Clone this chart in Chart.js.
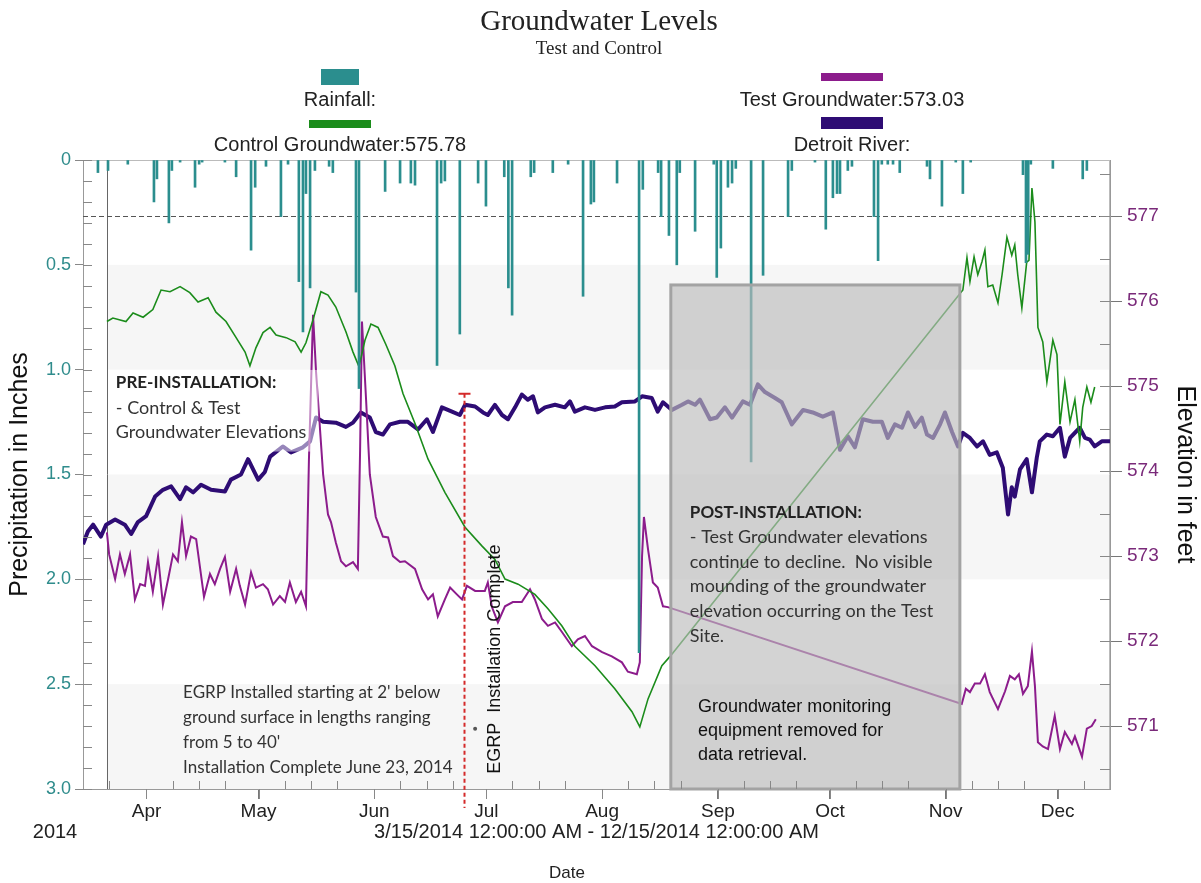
<!DOCTYPE html>
<html>
<head>
<meta charset="utf-8">
<title>Groundwater Levels</title>
<script src="https://cdn.jsdelivr.net/npm/chart.js@4.4.1/dist/chart.umd.min.js"></script>
<style>
  html, body { margin: 0; padding: 0; background: #fff; }
</style>
</head>
<body>
<canvas id="gw" width="1201" height="883"></canvas>
<script>
// x values are days after 3/15/2014 12:00 AM
var monthDays = [17, 47, 78, 108, 139, 170, 200, 231, 261];
var monthNames = ['Apr', 'May', 'Jun', 'Jul', 'Aug', 'Sep', 'Oct', 'Nov', 'Dec'];
var precipTicks = [0, 0.5, 1, 1.5, 2, 2.5, 3];
var elevTicks = [571, 572, 573, 574, 575, 576, 577];

var rainDay = [4.0, 6.7, 12.0, 19.0, 19.8, 23.0, 23.8, 26.0, 30.0, 31.1, 31.9, 38.0, 41.0, 45.0, 46.1, 49.0, 53.0, 54.9, 57.8, 58.9,
  59.7, 60.8, 62.1, 65.9, 66.9, 73.1, 73.9, 80.9, 84.9, 87.8, 88.9, 94.8, 95.9, 96.9, 100.9, 105.8, 107.9, 112.8, 113.9, 114.9,
  119.9, 120.8, 125.8, 129.9, 133.9, 136.0, 136.8, 143.0, 148.9, 149.9, 154.0, 154.8, 156.9, 159.0, 159.8, 163.9, 168.9, 169.7, 170.8, 172.7,
  173.8, 174.8, 178.9, 182.1, 188.8, 189.8, 196.0, 198.9, 200.8, 201.9, 202.7, 204.8, 205.9, 211.8, 212.9, 213.9, 215.5, 216.9, 218.7, 226.0,
  226.8, 230.0, 233.7, 235.6, 237.7, 251.7, 252.5, 253.1, 253.8, 259.7, 267.7, 268.8];
var rainInches = [0.06, 0.05, 0.02, 0.20, 0.09, 0.30, 0.05, 0.01, 0.13, 0.02, 0.01, 0.01, 0.08, 0.43, 0.13, 0.03, 0.27, 0.02, 0.58, 0.82,
  0.16, 0.61, 0.05, 0.03, 0.06, 0.63, 1.09, 0.15, 0.11, 0.11, 0.12, 0.98, 0.11, 0.10, 0.83, 0.11, 0.22, 0.08, 0.61, 0.74,
  0.08, 0.06, 0.06, 0.02, 0.65, 0.21, 0.20, 0.11, 2.35, 0.14, 0.06, 0.27, 0.36, 0.50, 0.06, 0.34, 0.02, 0.56, 0.42, 0.13,
  0.11, 0.04, 1.44, 0.55, 0.27, 0.05, 0.01, 0.33, 0.18, 0.16, 0.16, 0.05, 0.03, 0.27, 0.48, 0.02, 0.02, 0.02, 0.06, 0.03,
  0.09, 0.22, 0.01, 0.16, 0.01, 0.07, 0.49, 0.45, 0.02, 0.04, 0.09, 0.05];

var controlDay = [6.4, 8.0, 11.5, 13.4, 16.1, 18.7, 20.9, 23.3, 26.0, 28.6, 30.8, 33.5, 35.6, 38.3, 41.0, 43.4, 44.7, 46.3, 48.2, 50.1,
  51.7, 54.4, 56.8, 58.4, 59.7, 61.6, 63.7, 65.6, 67.7, 70.4, 72.3, 73.9, 75.5, 77.1, 79.0, 81.1, 83.5, 85.7, 88.9, 92.4,
  96.9, 102.3, 106.8, 110.3, 113.0, 116.5, 121.0, 124.5, 128.2, 131.7, 137.1, 142.4, 147.0, 149.1, 151.3, 155.0, 157.2, 235.6, 236.7, 237.5,
  238.6, 239.6, 240.7, 241.5, 242.3, 243.6, 245.0, 246.1, 247.4, 248.7, 249.5, 250.3, 251.4, 252.7, 253.3, 254.1, 254.9, 255.7, 257.0, 258.1,
  259.7, 260.8, 261.6, 262.9, 264.3, 265.6, 266.9, 267.7, 268.8, 269.9, 270.9];
var controlElev = [575.76, 575.80, 575.76, 575.86, 575.81, 575.90, 576.13, 576.11, 576.17, 576.10, 575.99, 576.04, 575.87, 575.76, 575.57, 575.40, 575.24, 575.45, 575.63, 575.69,
  575.60, 575.57, 575.52, 575.40, 575.51, 575.78, 576.11, 576.07, 575.93, 575.64, 575.40, 575.23, 575.54, 575.73, 575.69, 575.49, 575.24, 574.91, 574.56, 574.14,
  573.75, 573.34, 573.12, 572.96, 572.73, 572.67, 572.55, 572.38, 572.18, 571.94, 571.71, 571.44, 571.17, 570.99, 571.32, 571.71, 571.82, 576.13, 576.51, 576.23,
  576.52, 576.31, 576.46, 576.60, 576.17, 576.19, 575.98, 576.31, 576.75, 576.54, 576.66, 576.31, 575.92, 576.46, 576.48, 577.33, 576.93, 575.69, 575.52, 575.05,
  575.54, 575.37, 574.55, 575.05, 574.58, 574.84, 574.35, 574.75, 574.99, 574.81, 574.99];

var testDay = [6.4, 7.0, 8.6, 9.9, 11.2, 12.6, 13.9, 15.3, 16.6, 17.4, 18.7, 20.1, 21.4, 22.8, 24.1, 25.4, 26.5, 27.6, 28.9, 30.3,
  32.4, 34.0, 35.3, 36.7, 38.0, 39.4, 41.0, 42.0, 43.4, 45.0, 46.3, 48.2, 49.5, 50.9, 52.7, 54.1, 55.4, 57.0, 58.4, 59.7,
  60.5, 61.6, 62.4, 64.3, 65.6, 66.4, 67.7, 69.1, 70.4, 72.3, 73.6, 74.2, 74.7, 75.8, 76.8, 78.4, 80.3, 81.7, 83.0, 84.9,
  86.2, 88.9, 90.8, 92.4, 93.7, 95.0, 96.9, 98.3, 100.1, 101.5, 102.8, 105.0, 107.6, 108.4, 109.5, 111.1, 113.0, 115.1, 117.5, 119.7,
  121.0, 122.9, 124.5, 126.4, 128.2, 130.9, 132.5, 134.4, 136.3, 139.0, 141.6, 144.3, 145.9, 148.3, 149.1, 149.7, 150.2, 151.3, 152.6, 153.9,
  155.3, 156.6, 235.3, 236.4, 237.5, 238.8, 240.2, 241.5, 242.8, 245.0, 246.9, 248.2, 249.5, 250.6, 251.7, 253.0, 254.1, 254.9, 255.7, 257.0,
  258.4, 260.2, 261.6, 262.9, 264.8, 265.6, 267.5, 268.8, 270.1, 271.2];
var testElev = [573.28, 573.02, 572.73, 573.02, 572.79, 573.02, 572.49, 572.67, 572.65, 572.93, 572.58, 573.00, 572.43, 572.73, 573.02, 572.94, 573.40, 573.00, 573.23, 573.20,
  572.52, 572.79, 572.67, 572.85, 572.99, 572.58, 572.85, 572.65, 572.43, 572.81, 572.63, 572.67, 572.61, 572.43, 572.53, 572.46, 572.69, 572.46, 572.58, 572.41,
  574.14, 575.84, 575.17, 573.96, 573.49, 573.40, 573.16, 572.94, 572.88, 572.93, 572.85, 574.25, 575.76, 574.84, 573.96, 573.46, 573.23, 573.22, 573.00, 572.93,
  572.94, 572.85, 572.61, 572.49, 572.55, 572.29, 572.49, 572.63, 572.55, 572.49, 572.65, 572.59, 572.59, 572.69, 572.40, 572.22, 572.41, 572.46, 572.46, 572.61,
  572.49, 572.26, 572.18, 572.22, 572.11, 571.94, 572.02, 572.06, 571.94, 571.87, 571.82, 571.75, 571.64, 571.61, 571.75, 573.00, 573.46, 573.08, 572.69, 572.63,
  572.41, 572.40, 571.26, 571.44, 571.40, 571.50, 571.50, 571.61, 571.40, 571.20, 571.41, 571.59, 571.55, 571.61, 571.38, 571.47, 571.88, 571.47, 570.81, 570.76,
  570.73, 571.12, 570.73, 570.93, 570.79, 570.88, 570.64, 570.97, 571.00, 571.08];

var riverDay = [0.0, 1.3, 2.7, 4.8, 6.2, 8.6, 11.2, 12.9, 14.7, 16.9, 19.3, 21.4, 23.6, 26.0, 27.6, 29.5, 31.6, 34.3, 38.0, 39.6,
  42.3, 44.2, 46.9, 48.7, 50.1, 53.5, 55.7, 58.9, 60.8, 62.4, 64.3, 67.7, 70.4, 72.3, 74.4, 76.8, 78.4, 80.3, 82.2, 84.9,
  87.0, 89.7, 92.1, 93.7, 96.1, 98.8, 100.9, 102.3, 105.0, 107.1, 108.4, 110.3, 112.2, 113.8, 115.7, 117.5, 119.1, 120.5, 121.8, 123.7,
  126.4, 129.0, 130.4, 131.7, 134.4, 137.1, 139.8, 142.4, 144.3, 147.8, 149.7, 152.3, 153.9, 155.3, 157.7, 160.4, 162.0, 163.9, 165.2, 167.9,
  169.7, 171.9, 173.8, 176.7, 178.6, 180.7, 182.6, 185.3, 187.1, 189.8, 192.8, 195.4, 198.1, 200.8, 202.7, 204.8, 206.7, 208.8, 211.5, 213.9,
  215.5, 217.4, 219.3, 220.9, 222.8, 224.6, 226.0, 227.6, 229.5, 230.8, 232.7, 234.3, 235.6, 237.5, 239.4, 241.0, 242.8, 244.7, 246.3, 247.7,
  248.7, 249.5, 250.9, 252.7, 254.1, 255.4, 256.2, 258.1, 259.7, 261.6, 262.9, 264.3, 266.9, 268.3, 269.6, 270.9, 272.8, 275.0];
var riverElev = [573.14, 573.29, 573.37, 573.23, 573.37, 573.43, 573.37, 573.26, 573.40, 573.47, 573.70, 573.78, 573.82, 573.67, 573.81, 573.75, 573.84, 573.78, 573.76, 573.90,
  573.96, 574.14, 573.90, 573.99, 574.17, 574.29, 574.22, 574.28, 574.35, 574.63, 574.58, 574.57, 574.52, 574.57, 574.69, 574.63, 574.46, 574.43, 574.55, 574.58,
  574.58, 574.49, 574.61, 574.46, 574.75, 574.70, 574.66, 574.78, 574.76, 574.69, 574.66, 574.78, 574.66, 574.61, 574.75, 574.90, 574.84, 574.88, 574.69, 574.75,
  574.78, 574.75, 574.82, 574.70, 574.75, 574.72, 574.75, 574.76, 574.81, 574.82, 574.88, 574.86, 574.70, 574.81, 574.72, 574.78, 574.82, 574.78, 574.84, 574.61,
  574.63, 574.75, 574.63, 574.82, 574.78, 575.02, 574.93, 574.86, 574.81, 574.55, 574.72, 574.69, 574.64, 574.69, 574.25, 574.41, 574.28, 574.61, 574.58, 574.58,
  574.39, 574.55, 574.51, 574.69, 574.52, 574.63, 574.43, 574.39, 574.55, 574.69, 574.46, 574.29, 574.45, 574.39, 574.29, 574.35, 574.19, 574.22, 574.04, 573.49,
  573.81, 573.70, 574.02, 574.14, 573.75, 574.16, 574.35, 574.43, 574.41, 574.51, 574.17, 574.39, 574.51, 574.39, 574.37, 574.29, 574.35, 574.35];

var dataStart = 6.4;      // logger start line
var installDay = 102;     // red dashed line
var removedFrom = 157.4, removedTo = 234.8;  // equipment removed box

function pts(xs, ys) {
  return xs.map(function(v, i) { return {x: v, y: ys[i]}; });
}

var sans = 'Liberation Sans, Arial, sans-serif';
var note = 'Lato, Open Sans, sans-serif';

var decorations = {
  id: 'decorations',
  beforeDatasetsDraw: function(chart) {
    var ctx = chart.ctx, a = chart.chartArea;
    var x = chart.scales.x, yr = chart.scales.yRain, ye = chart.scales.yElev;
    var x0 = x.getPixelForValue(dataStart);
    ctx.save();
    ctx.fillStyle = '#f6f6f6';
    [[0.5, 1], [1.5, 2], [2.5, 3]].forEach(function(b) {
      var t = yr.getPixelForValue(b[0]), btm = yr.getPixelForValue(b[1]);
      ctx.fillRect(x0, t, a.right - x0, btm - t);
    });
    ctx.strokeStyle = '#bbb';
    ctx.lineWidth = 1;
    ctx.beginPath();
    ctx.moveTo(a.left, a.top + 0.5); ctx.lineTo(a.right, a.top + 0.5);
    ctx.moveTo(a.right - 0.5, a.top); ctx.lineTo(a.right - 0.5, a.bottom);
    ctx.stroke();
    ctx.strokeStyle = '#666';
    ctx.beginPath();
    ctx.moveTo(Math.round(x0) + 0.5, a.top); ctx.lineTo(Math.round(x0) + 0.5, a.bottom);
    ctx.stroke();
    var y577 = Math.round(ye.getPixelForValue(577)) + 0.5;
    ctx.strokeStyle = '#555';
    ctx.setLineDash([5, 3]);
    ctx.beginPath();
    ctx.moveTo(a.left, y577); ctx.lineTo(a.right, y577);
    ctx.stroke();
    ctx.restore();
  },
  afterDatasetsDraw: function(chart) {
    var ctx = chart.ctx, a = chart.chartArea;
    var x = chart.scales.x, yr = chart.scales.yRain, ye = chart.scales.yElev;
    ctx.save();

    // pre-installation note background
    var px1 = x.getPixelForValue(7), px2 = x.getPixelForValue(63);
    var py1 = ye.getPixelForValue(575.19), py2 = ye.getPixelForValue(574.23);
    ctx.fillStyle = 'rgba(255,255,255,0.5)';
    ctx.fillRect(px1, py1, px2 - px1, py2 - py1);

    // equipment removed box
    var gx1 = x.getPixelForValue(removedFrom), gx2 = x.getPixelForValue(removedTo);
    var gy1 = ye.getPixelForValue(576.19);
    ctx.fillStyle = 'rgba(188,188,188,0.65)';
    ctx.fillRect(gx1, gy1, gx2 - gx1, a.bottom - gy1);
    ctx.strokeStyle = '#a3a3a3';
    ctx.lineWidth = 3;
    ctx.strokeRect(gx1, gy1, gx2 - gx1, a.bottom - gy1);

    // installation complete line
    var rx = Math.round(x.getPixelForValue(installDay)) + 0.5;
    var ry = ye.getPixelForValue(574.91);
    ctx.strokeStyle = '#d42a2a';
    ctx.lineWidth = 2;
    ctx.setLineDash([4, 3]);
    ctx.beginPath();
    ctx.moveTo(rx, ry); ctx.lineTo(rx, a.bottom + 19);
    ctx.stroke();
    ctx.setLineDash([]);
    ctx.beginPath();
    ctx.moveTo(rx - 6, ry); ctx.lineTo(rx + 6, ry);
    ctx.stroke();

    // axis ticks: months below the axis, weeks inside
    ctx.strokeStyle = '#888';
    ctx.lineWidth = 1;
    ctx.beginPath();
    monthDays.forEach(function(m) {
      var px = Math.round(x.getPixelForValue(m)) + 0.5;
      ctx.moveTo(px, a.bottom); ctx.lineTo(px, a.bottom + 10);
    });
    var starts = [-14].concat(monthDays);
    starts.forEach(function(m) {
      [7, 14, 21].forEach(function(k) {
        var d = m + k;
        if (d > 0 && d < 275) {
          var px = Math.round(x.getPixelForValue(d)) + 0.5;
          ctx.moveTo(px, a.bottom); ctx.lineTo(px, a.bottom - 8);
        }
      });
    });
    for (var i = 0; i <= 30; i++) {
      var py = Math.round(yr.getPixelForValue(i / 10)) + 0.5;
      ctx.moveTo(a.left, py); ctx.lineTo(a.left + 9, py);
    }
    for (var e = 570.5; e < 577.7; e += 0.5) {
      var pe = Math.round(ye.getPixelForValue(e)) + 0.5;
      ctx.moveTo(a.right, pe); ctx.lineTo(a.right - 10, pe);
    }
    ctx.stroke();

    // notes
    ctx.textBaseline = 'middle';
    ctx.textAlign = 'left';
    ctx.fillStyle = '#222';
    var tx = x.getPixelForValue(8.8), ty = ye.getPixelForValue(575.04);
    ctx.font = 'bold 17px ' + note;
    ctx.fillText('PRE-INSTALLATION:', tx, ty);
    ctx.font = '18px ' + note;
    ctx.fillStyle = '#333';
    ctx.fillText('- Control & Test', tx, ty + 25);
    ctx.fillText('Groundwater Elevations', tx, ty + 49);

    tx = x.getPixelForValue(26.8); ty = ye.getPixelForValue(571.40);
    ctx.font = '17px ' + note;
    ['EGRP Installed starting at 2\' below', 'ground surface in lengths ranging', 'from 5 to 40\'', 'Installation Complete June 23, 2014']
      .forEach(function(s, k) { ctx.fillText(s, tx, ty + k * 25); });

    tx = x.getPixelForValue(162.5); ty = ye.getPixelForValue(573.51);
    ctx.fillStyle = '#222';
    ctx.font = 'bold 17px ' + note;
    ctx.fillText('POST-INSTALLATION:', tx, ty);
    ctx.font = '18px ' + note;
    ctx.fillStyle = '#333';
    ['- Test Groundwater elevations', 'continue to decline.  No visible', 'mounding of the groundwater', 'elevation occurring on the Test', 'Site.']
      .forEach(function(s, k) { ctx.fillText(s, tx, ty + (k + 1) * 24.6); });

    tx = x.getPixelForValue(164.7); ty = ye.getPixelForValue(571.23);
    ctx.fillStyle = '#111';
    ctx.font = '18px ' + sans;
    ['Groundwater monitoring', 'equipment removed for', 'data retrieval.']
      .forEach(function(s, k) { ctx.fillText(s, tx, ty + k * 24); });

    // rotated label and marker dot
    ctx.save();
    ctx.translate(x.getPixelForValue(110.3), ye.getPixelForValue(570.44));
    ctx.rotate(-Math.PI / 2);
    ctx.font = '18px ' + sans;
    ctx.fillStyle = '#111';
    ctx.fillText('EGRP  Installation Complete', 0, 0);
    ctx.restore();
    ctx.fillStyle = '#555';
    ctx.beginPath();
    ctx.arc(x.getPixelForValue(105), ye.getPixelForValue(570.97), 2, 0, Math.PI * 2);
    ctx.fill();
    ctx.restore();
  },
  afterDraw: function(chart) {
    var ctx = chart.ctx;
    ctx.save();
    ctx.textAlign = 'center';
    ctx.textBaseline = 'middle';
    ctx.fillStyle = '#222';
    ctx.font = '29px Liberation Serif, Times New Roman, serif';
    ctx.fillText('Groundwater Levels', 599, 22);
    ctx.font = '19px Liberation Serif, Times New Roman, serif';
    ctx.fillText('Test and Control', 599, 49);

    // legend: swatch above its label, two columns
    var ds = chart.data.datasets;
    var slots = [[340, 77, 100], [340, 124, 145], [852, 77, 100], [852, 123, 145]];
    ds.forEach(function(d, i) {
      var s = slots[i];
      var w = d.type === 'bar' ? 38 : 62;
      var h = d.type === 'bar' ? 16 : (d.borderWidth > 3 ? 12 : 8);
      ctx.fillStyle = d.type === 'bar' ? d.backgroundColor : d.borderColor;
      ctx.fillRect(s[0] - w / 2, s[1] - h / 2, w, h);
      ctx.fillStyle = '#222';
      ctx.font = '20px ' + sans;
      ctx.fillText(d.label, s[0], s[2]);
    });

    ctx.font = '20px ' + sans;
    ctx.fillText('2014', 55, 832);
    ctx.font = '17px ' + sans;
    ctx.fillText('Date', 567, 873);
    ctx.restore();
  }
};

new Chart(document.getElementById('gw'), {
  type: 'line',
  data: {
    datasets: [
      {type: 'bar', label: 'Rainfall:', data: pts(rainDay, rainInches), yAxisID: 'yRain',
        backgroundColor: '#2b8e8e', barThickness: 2},
      {type: 'line', label: 'Control Groundwater:575.78', data: pts(controlDay, controlElev), yAxisID: 'yElev',
        borderColor: '#1b8c1b', borderWidth: 1.6, pointRadius: 0, tension: 0},
      {type: 'line', label: 'Test Groundwater:573.03', data: pts(testDay, testElev), yAxisID: 'yElev',
        borderColor: '#8c1c8c', borderWidth: 2, pointRadius: 0, tension: 0},
      {type: 'line', label: 'Detroit River:', data: pts(riverDay, riverElev), yAxisID: 'yElev',
        borderColor: '#2e0c74', borderWidth: 4, pointRadius: 0, tension: 0, borderJoinStyle: 'round'}
    ]
  },
  options: {
    responsive: false,
    animation: false,
    devicePixelRatio: 1,
    layout: {padding: {top: 160, left: 0, right: 0, bottom: 0}},
    plugins: {
      legend: {display: false},
      title: {display: false},
      tooltip: {enabled: false}
    },
    scales: {
      x: {
        type: 'linear', min: 0, max: 275, offset: false,
        afterBuildTicks: function(s) { s.ticks = monthDays.map(function(v) { return {value: v}; }); },
        afterFit: function(s) { s.height = 94; },
        grid: {drawOnChartArea: false, offset: false, tickLength: 10, tickColor: '#777'},
        border: {color: '#999'},
        ticks: {autoSkip: false, maxRotation: 0, padding: 1, color: '#222', font: {family: sans, size: 19},
          callback: function(v, i) { return monthNames[i]; }},
        title: {display: true, text: '3/15/2014 12:00:00 AM - 12/15/2014 12:00:00 AM', color: '#222',
          font: {family: sans, size: 20}, padding: {top: 0, bottom: 39}}
      },
      yRain: {
        type: 'linear', position: 'left', min: 0, max: 3, reverse: true,
        afterBuildTicks: function(s) { s.ticks = precipTicks.map(function(v) { return {value: v}; }); },
        afterFit: function(s) { s.width = 83; },
        grid: {drawOnChartArea: false, tickLength: 8, tickColor: '#888'},
        border: {color: '#999'},
        ticks: {padding: 4, color: '#2f8c8c', font: {family: sans, size: 18},
          callback: function(v) { return v === 0 ? '0' : v.toFixed(1); }},
        title: {display: true, text: 'Precipitation in Inches', color: '#111',
          font: {family: sans, size: 25}, padding: {top: 5, bottom: 0}}
      },
      yElev: {
        type: 'linear', position: 'right', min: 570.26, max: 577.66,
        afterBuildTicks: function(s) { s.ticks = elevTicks.map(function(v) { return {value: v}; }); },
        afterFit: function(s) { s.width = 91; },
        grid: {drawOnChartArea: false, tickLength: 12, tickColor: '#777'},
        border: {color: '#999'},
        ticks: {padding: 5, color: '#7a2a7a', font: {family: sans, size: 19},
          callback: function(v) { return String(v); }},
        title: {display: true, text: 'Elevation in feet', color: '#111',
          font: {family: sans, size: 25}, padding: {top: 1, bottom: 0}}
      }
    }
  },
  plugins: [decorations]
});
</script>
</body>
</html>
